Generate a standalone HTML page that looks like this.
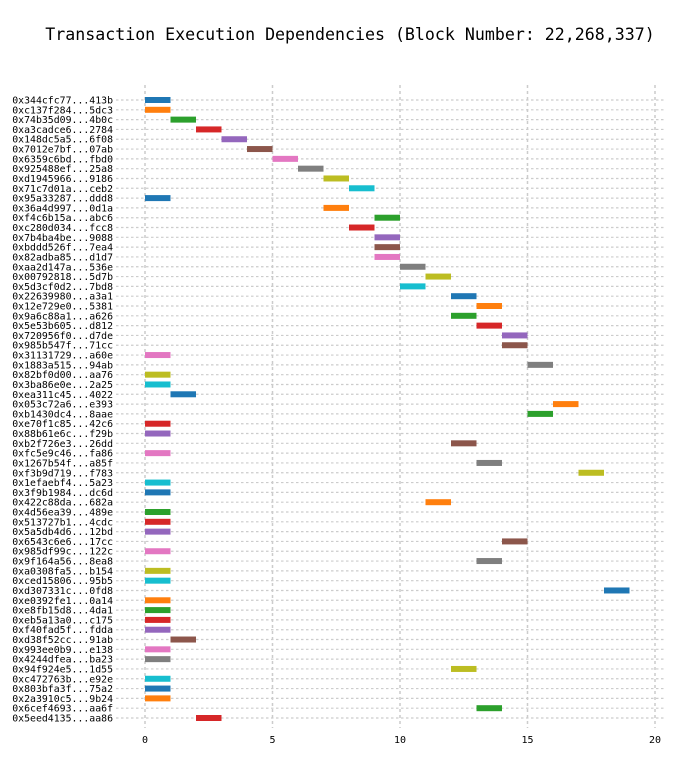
<!DOCTYPE html>
<html><head><meta charset="utf-8"><style>
body{margin:0;background:#fff;}
svg text{font-family:"DejaVu Sans Mono","Liberation Mono",monospace;}
</style></head><body>
<svg id="chart" width="700" height="768">
<text x="350" y="40" text-anchor="middle" font-size="16.6" fill="#000">Transaction Execution Dependencies (Block Number: 22,268,337)</text>
<g id="grid"></g><g id="bars"></g><g id="ylabels"></g><g id="xticks"></g>
</svg>
<script>
const labels=["0x344cfc77...413b","0xc137f284...5dc3","0x74b35d09...4b0c","0xa3cadce6...2784","0x148dc5a5...6f08","0x7012e7bf...07ab","0x6359c6bd...fbd0","0x925488ef...25a8","0xd1945966...9186","0x71c7d01a...ceb2","0x95a33287...ddd8","0x36a4d997...0d1a","0xf4c6b15a...abc6","0xc280d034...fcc8","0x7b4ba4be...9088","0xbddd526f...7ea4","0x82adba85...d1d7","0xaa2d147a...536e","0x00792818...5d7b","0x5d3cf0d2...7bd8","0x22639980...a3a1","0x12e729e0...5381","0x9a6c88a1...a626","0x5e53b605...d812","0x720956f0...d7de","0x985b547f...71cc","0x31131729...a60e","0x1883a515...94ab","0x82bf0d00...aa76","0x3ba86e0e...2a25","0xea311c45...4022","0x053c72a6...e393","0xb1430dc4...8aae","0xe70f1c85...42c6","0x88b61e6c...f29b","0xb2f726e3...26dd","0xfc5e9c46...fa86","0x1267b54f...a85f","0xf3b9d719...f783","0x1efaebf4...5a23","0x3f9b1984...dc6d","0x422c88da...682a","0x4d56ea39...489e","0x513727b1...4cdc","0x5a5db4d6...12bd","0x6543c6e6...17cc","0x985df99c...122c","0x9f164a56...8ea8","0xa0308fa5...b154","0xced15806...95b5","0xd307331c...0fd8","0xe0392fe1...0a14","0xe8fb15d8...4da1","0xeb5a13a0...c175","0xf40fad5f...fdda","0xd38f52cc...91ab","0x993ee0b9...e138","0x4244dfea...ba23","0x94f924e5...1d55","0xc472763b...e92e","0x803bfa3f...75a2","0x2a3910c5...9b24","0x6cef4693...aa6f","0x5eed4135...aa86"];
const starts=[0,0,1,2,3,4,5,6,7,8,0,7,9,8,9,9,9,10,11,10,12,13,12,13,14,14,0,15,0,0,1,16,15,0,0,12,0,13,17,0,0,11,0,0,0,14,0,13,0,0,18,0,0,0,0,1,0,0,12,0,0,0,13,2];
const durations=starts.map(()=>1);
const xTicks=[0,5,10,15,20];
const colors=["#1f77b4","#ff7f0e","#2ca02c","#d62728","#9467bd","#8c564b","#e377c2","#7f7f7f","#bcbd22","#17becf"];
const NS="http://www.w3.org/2000/svg";
const x=v=>145+v*25.5;
const y=i=>100+i*(618/(labels.length-1||1));
function mk(t,a,p){const e=document.createElementNS(NS,t);for(const k in a)e.setAttribute(k,a[k]);p.appendChild(e);return e;}
const grid=document.getElementById('grid'),bars=document.getElementById('bars'),yl=document.getElementById('ylabels'),xt=document.getElementById('xticks');
labels.forEach((l,i)=>{
 const g=mk('line',{x1:116,x2:664,y1:y(i),y2:y(i),stroke:'#ccc','stroke-width':1.2,'stroke-dasharray':'2.5,2.5'},grid);
 
 
 const t=mk('text',{x:113,y:y(i)+3.5,'text-anchor':'end','font-size':'9.85',fill:'#000'},yl);
 t.textContent=l;
 
 
 const b=mk('rect',{x:x(starts[i]),y:y(i)-3,width:x(starts[i]+durations[i])-x(starts[i]),height:6,fill:colors[i%10]},bars);
 
 
});
xTicks.forEach(v=>{
 const g=mk('line',{x1:x(v),x2:x(v),y1:85,y2:728,stroke:'#ccc','stroke-width':1.5,'stroke-dasharray':'3,3'},grid);
 
 
 const t=mk('text',{x:x(v),y:743,'text-anchor':'middle','font-size':'10',fill:'#000'},xt);
 t.textContent=v;
 
 
});
</script>
</body></html>
